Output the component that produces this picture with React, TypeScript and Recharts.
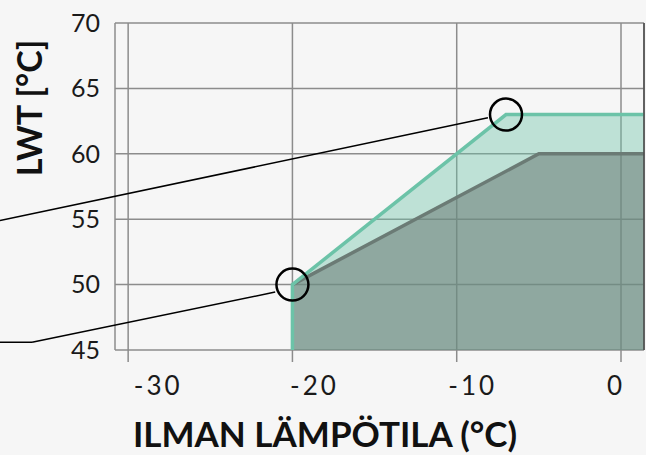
import React from "react";
import {
  ComposedChart,
  Area,
  Line,
  XAxis,
  YAxis,
  CartesianGrid,
  ReferenceDot,
  ReferenceLine,
  Label,
} from "recharts";

// axis setup
const X_TICKS = [-30, -20, -10, 0];
const Y_TICKS = [45, 50, 55, 60, 65, 70];
const X_DOMAIN: [number, number] = [-30.8, 1.4];
const Y_DOMAIN: [number, number] = [45, 70];

// upper envelope (teal) and lower envelope (grey)
const MAX_TEMP = [-20, -20, -7, 1.4];
const MAX_LWT = [45, 50, 63, 63];
const MIN_TEMP = [-20, -5, 1.4];
const MIN_LWT = [50, 60, 60];

// callout circles + leader lines (data coords)
const CALLOUT_TEMP = [-7, -20];
const CALLOUT_LWT = [63, 50];
const LEADER_UPPER_TEMP = [-37.8, -8.1];
const LEADER_UPPER_LWT = [54.9, 62.75];
const LEADER_LOWER_TEMP = [-37.8, -35.85, -21.05];
const LEADER_LOWER_LWT = [45.6, 45.6, 49.43];

const maxData = MAX_TEMP.map((t, i) => ({ t, lwt: MAX_LWT[i] }));
const minData = MIN_TEMP.map((t, i) => ({ t, lwt: MIN_LWT[i] }));

const FONT = "Lato, 'Open Sans', sans-serif";
const TEAL = "#6cc3a8";
const GREY = "#6b7b75";
const GRID = "#8c8c8c";

// Excel-ish label placement, offsets per tick
const X_LABEL_SHIFT: Record<number, number> = { [-30]: 30, [-20]: 22, [-10]: 16, [0]: -5 };

function XTick(props: any) {
  const { x, y, payload } = props;
  const v = payload.value as number;
  return (
    <text
      x={x + (X_LABEL_SHIFT[v] ?? 0)}
      y={y}
      dy={18}
      textAnchor="middle"
      fontFamily={FONT}
      fontSize={26}
      letterSpacing={3}
      fill="#1a1a1a"
    >
      {String(v)}
    </text>
  );
}

export default function App() {
  return (
    <div
      style={{
        position: "absolute",
        left: 0,
        top: 0,
        width: 646,
        height: 455,
        background: "#f6f6f6",
        overflow: "hidden",
      }}
    >
      <ComposedChart width={646} height={455} margin={{ top: 23, right: 2, bottom: 0, left: 0 }}>
        <CartesianGrid stroke={GRID} strokeWidth={1.5} />
        <XAxis
          type="number"
          dataKey="t"
          domain={X_DOMAIN}
          ticks={X_TICKS}
          allowDataOverflow
          height={105}
          axisLine={false}
          tickSize={12}
          tickLine={{ stroke: GRID, strokeWidth: 1.5 }}
          tickMargin={15}
          tick={<XTick />}
        >
          <Label
            content={(p: any) => {
              const vb = p.viewBox;
              return (
                <text
                  x={vb.x + 210}
                  y={vb.y + 97}
                  textAnchor="middle"
                  fontFamily={FONT}
                  fontWeight={700}
                  fontSize={35}
                  fill="#111"
                >
                  ILMAN LÄMPÖTILA (°C)
                </text>
              );
            }}
          />
        </XAxis>
        <YAxis
          type="number"
          domain={Y_DOMAIN}
          ticks={Y_TICKS}
          allowDataOverflow
          width={115}
          axisLine={false}
          tickLine={false}
          tickMargin={9}
          tick={{ fontFamily: FONT, fontSize: 25, fill: "#1a1a1a" }}
        >
          <Label
            content={(p: any) => {
              const vb = p.viewBox;
              return (
                <text
                  x={vb.x + 42}
                  y={vb.y + 85}
                  transform={`rotate(-90 ${vb.x + 42} ${vb.y + 85})`}
                  textAnchor="middle"
                  fontFamily={FONT}
                  fontWeight={700}
                  fontSize={34}
                  fill="#111"
                >
                  LWT [°C]
                </text>
              );
            }}
          />
        </YAxis>

        <Area
          data={maxData}
          dataKey="lwt"
          type="linear"
          baseValue={45}
          stroke="none"
          fill={TEAL}
          fillOpacity={0.4}
          dot={false}
          activeDot={false}
          isAnimationActive={false}
        />
        <Area
          data={minData}
          dataKey="lwt"
          type="linear"
          baseValue={45}
          stroke={GREY}
          strokeWidth={3.5}
          fill={GREY}
          fillOpacity={0.56}
          dot={false}
          activeDot={false}
          isAnimationActive={false}
        />
        <Line
          data={maxData}
          dataKey="lwt"
          type="linear"
          stroke={TEAL}
          strokeWidth={3.5}
          dot={false}
          activeDot={false}
          isAnimationActive={false}
        />

        <ReferenceLine x={X_DOMAIN[1]} stroke="#4a4a4a" strokeWidth={1.5} />

        <ReferenceLine
          ifOverflow="visible"
          stroke="#000"
          strokeWidth={1.5}
          segment={[
            { x: LEADER_UPPER_TEMP[0], y: LEADER_UPPER_LWT[0] },
            { x: LEADER_UPPER_TEMP[1], y: LEADER_UPPER_LWT[1] },
          ]}
        />
        {LEADER_LOWER_TEMP.slice(1).map((t, i) => (
          <ReferenceLine
            key={`ll${i}`}
            ifOverflow="visible"
            stroke="#000"
            strokeWidth={1.5}
            segment={[
              { x: LEADER_LOWER_TEMP[i], y: LEADER_LOWER_LWT[i] },
              { x: t, y: LEADER_LOWER_LWT[i + 1] },
            ]}
          />
        ))}
        {CALLOUT_TEMP.map((t, i) => (
          <ReferenceDot
            key={`c${i}`}
            x={t}
            y={CALLOUT_LWT[i]}
            r={16}
            fill="none"
            stroke="#000"
            strokeWidth={2.5}
            ifOverflow="visible"
          />
        ))}
      </ComposedChart>
    </div>
  );
}
